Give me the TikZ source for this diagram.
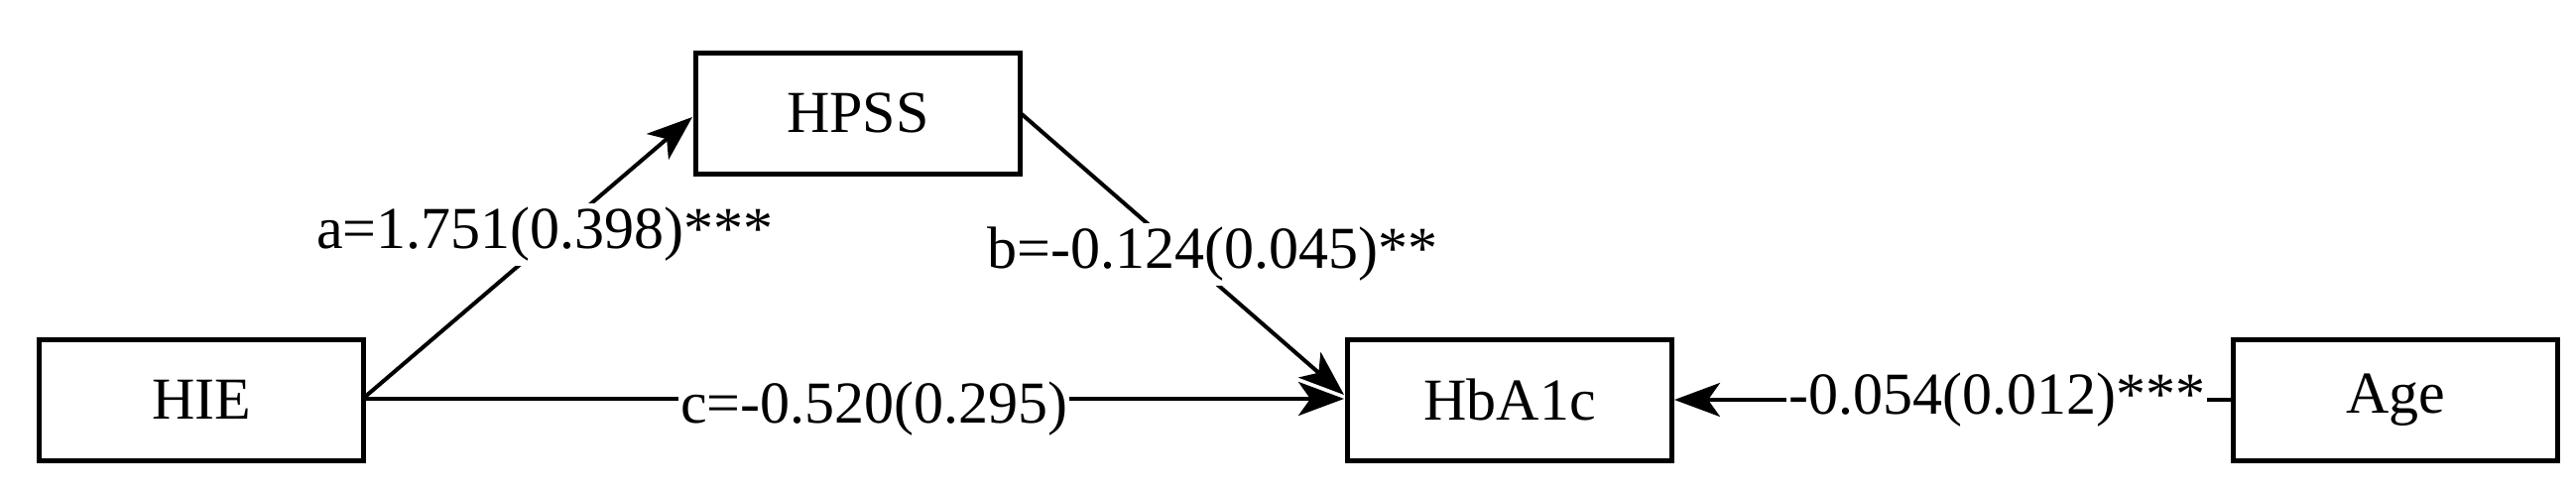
\documentclass[tikz,border=0pt]{standalone}
\usepackage{fontspec}
\setmainfont{Liberation Serif}
\usetikzlibrary{arrows.meta}
\begin{document}
\begin{tikzpicture}[x=1pt,y=-1pt,
  box/.style={draw,line width=5pt,minimum width=327pt,minimum height=122pt,inner sep=0pt,font=\fontsize{60}{62}\selectfont},
  lab/.style={fill=white,inner sep=4pt,font=\fontsize{60}{62}\selectfont},
  conn/.style={line width=4pt,-{Stealth[length=46pt,width=34pt,inset=12pt]}}]
\useasboundingbox (0,0) rectangle (2597,499);
\node[box] (hpss) at (865,114) {HPSS};
\node[box] (hie) at (203,403) {HIE};
\node[box] (hba) at (1522,403) {HbA1c};
\node[box] (age) at (2415,403) {Age};
\coordinate (s1) at (368,400);
\coordinate (e1) at (698,118);
\coordinate (s2) at (1030,115);
\coordinate (e2) at (1355,398);
\coordinate (s3) at (368,402);
\coordinate (e3) at (1355,402);
\draw[conn] (s1) -- node[lab,pos=0.58,xshift=-10pt] {a=1.751(0.398)***} (e1);
\draw[conn] (s2) -- node[lab,pos=0.5,xshift=30pt] {b=-0.124(0.045)**} (e2);
\draw[conn] (s3) -- node[lab,pos=0.52,yshift=-10pt,inner sep=2pt] {c=-0.520(0.295)} (e3);
\draw[conn] (age.west) -- node[lab,pos=0.42,inner sep=2pt] {-0.054(0.012)***} (hba.east);
\end{tikzpicture}
\end{document}
